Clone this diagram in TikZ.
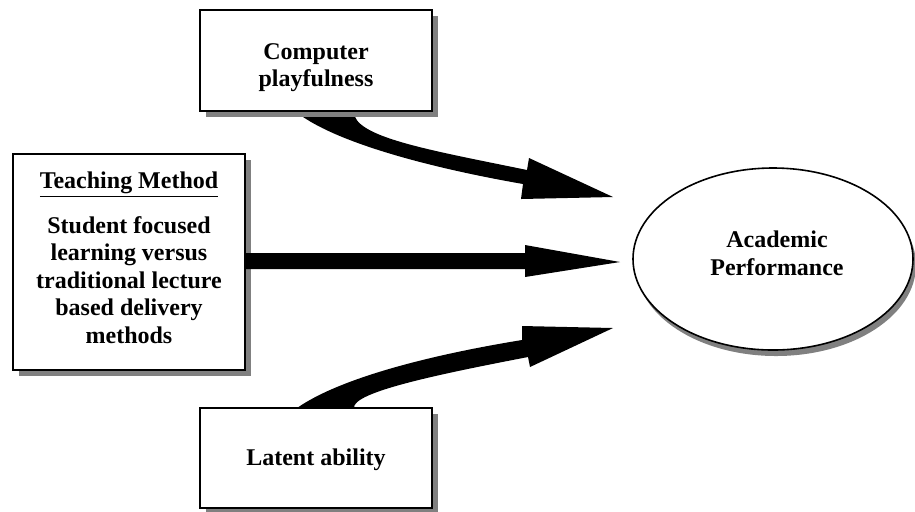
\documentclass[tikz,border=0pt]{standalone}
\usepackage{fontspec}
\setmainfont{Liberation Serif}
\usetikzlibrary{shapes.geometric,shadows}
\begin{document}
\begin{tikzpicture}[x=0.5pt,y=-0.5pt,
  shade/.style={drop shadow={shadow xshift=3pt, shadow yshift=-3pt, fill=black!50, opacity=1}},
  boxstyle/.style={draw=black, line width=0.8pt, fill=white, rectangle, inner sep=0pt, minimum width=116pt, shade},
  ovalstyle/.style={draw=black, line width=0.8pt, fill=white, ellipse, inner sep=0pt, minimum width=140pt, minimum height=91pt,
     drop shadow={shadow xshift=1.5pt, shadow yshift=-3pt, fill=black!50, opacity=1}},
  txt/.style={font=\fontsize{12pt}{13.75pt}\selectfont\bfseries, align=center, inner sep=0pt},
  arrowfill/.style={fill=black}]
\useasboundingbox (0,0) rectangle (915,511);

% top curved arrow (drawn first so the box shadow lies over its root)
\coordinate (tipA) at (613,197);
\fill[arrowfill] (295,111) .. controls (330,140) and (420,166) .. (523,184)
   -- (521,199) -- (tipA) -- (529,158) -- (527,170)
   .. controls (430,150) and (352,137) .. (354,111) -- cycle;

% boxes
\node[boxstyle, minimum height=50.5pt] (cp) at (316,60.5) {};
\node[txt] (cpt) at (316,67.5) {Computer\\playfulness};

\node[boxstyle, minimum height=108pt] (tm) at (129,262) {};
\node[txt] (tmt) at (129,257.5) {\underline{Teaching Method}\\[8.75pt]Student focused\\learning versus\\traditional lecture\\based delivery\\methods};

\node[boxstyle, minimum height=50pt] (la) at (316,458) {};
\node[txt] (lat) at (316,460) {Latent ability};

\node[ovalstyle] (ap) at (773,259) {};
\node[txt] (apt) at (777,253.5) {Academic\\Performance};

% middle straight arrow
\coordinate (tipB) at (620,262);
\fill[arrowfill] (245,253) -- (525,253) -- (525,245) -- (tipB) -- (525,277) -- (525,269) -- (245,269) -- cycle;

% bottom curved arrow
\coordinate (tipC) at (613,328);
\fill[arrowfill] (297,408) .. controls (340,378) and (430,355) .. (522,340)
   -- (522,326) -- (tipC) -- (530,367) -- (528,357)
   .. controls (440,374) and (352,392) .. (354,408) -- cycle;
\end{tikzpicture}
\end{document}
